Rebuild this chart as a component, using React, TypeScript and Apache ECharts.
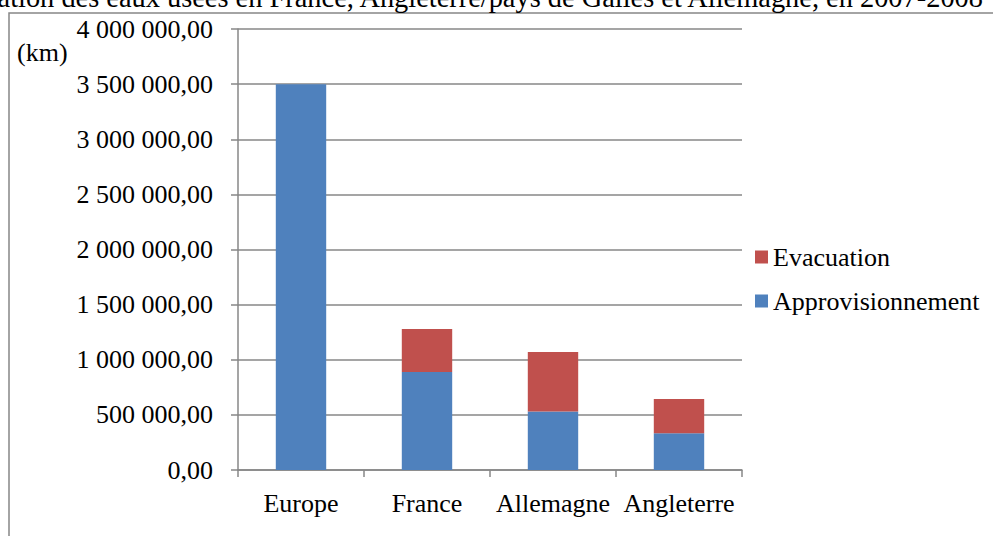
import React, { useEffect, useRef } from "react";
import * as echarts from "echarts";

const categories = ["Europe", "France", "Allemagne", "Angleterre"];
const approvisionnement = [3500000, 890000, 530000, 333000];
const evacuation = [0, 390000, 540000, 311000];
const titleText = "ation des eaux usées en France, Angleterre/pays de Galles et Allemagne, en 2007-2008";
const unitLabel = "(km)";

const FONT = "Liberation Serif, Times New Roman, serif";
const GRAY = "#878787";
const FS = 26;

function fmt(v: number): string {
  const s = Math.round(v).toString().replace(/\B(?=(\d{3})+(?!\d))/g, " ");
  return s + ",00";
}

export default function App() {
  const ref = useRef<HTMLDivElement>(null);
  useEffect(() => {
    if (!ref.current) return;
    const chart = echarts.init(ref.current, null, { renderer: "svg" });
    chart.setOption({
      animation: false,
      backgroundColor: "#ffffff",
      textStyle: { fontFamily: FONT },
      grid: { left: 238, right: 251, top: 29, bottom: 66, containLabel: false },
      legend: {
        orient: "vertical",
        left: 750,
        top: 239,
        itemGap: 18,
        itemWidth: 13,
        itemHeight: 13,
        icon: "rect",
        data: ["Evacuation", "Approvisionnement"],
        textStyle: { fontFamily: FONT, fontSize: FS, color: "#000" },
      },
      xAxis: {
        type: "category",
        data: categories,
        axisLine: { lineStyle: { color: GRAY, width: 1.5 } },
        axisTick: { show: true, length: 7, lineStyle: { color: GRAY, width: 1.5 } },
        axisLabel: { color: "#000", fontFamily: FONT, fontSize: FS, margin: 20, interval: 0 },
      },
      yAxis: {
        type: "value",
        min: 0,
        max: 4000000,
        interval: 500000,
        axisLine: { show: true, lineStyle: { color: GRAY, width: 1.5 } },
        axisTick: { show: true, length: 7, lineStyle: { color: GRAY, width: 1.5 } },
        splitLine: { lineStyle: { color: GRAY, width: 1.5 } },
        axisLabel: { color: "#000", fontFamily: FONT, fontSize: FS, margin: 25, formatter: (v: number) => fmt(v) },
      },
      series: [
        {
          name: "Approvisionnement",
          type: "bar",
          stack: "total",
          barWidth: "40%",
          data: approvisionnement,
          itemStyle: { color: "#4F81BD" },
        },
        {
          name: "Evacuation",
          type: "bar",
          stack: "total",
          barWidth: "40%",
          data: evacuation,
          itemStyle: { color: "#C0504D" },
        },
      ],
      graphic: [
        {
          type: "rect",
          shape: { x: 9, y: 13, width: 1000, height: 600 },
          style: { fill: "none", stroke: GRAY, lineWidth: 1.5 },
          silent: true,
        },
        {
          type: "text",
          x: 983,
          y: 11,
          style: {
            text: titleText,
            font: `28.4px ${FONT}`,
            fill: "#000",
            textAlign: "right",
            textVerticalAlign: "bottom",
          },
        },
        {
          type: "text",
          x: 17,
          y: 52,
          style: {
            text: unitLabel,
            font: `${FS}px ${FONT}`,
            fill: "#000",
            textAlign: "left",
            textVerticalAlign: "middle",
          },
        },
      ],
    });
    return () => chart.dispose();
  }, []);
  return <div ref={ref} style={{ position: "fixed", left: 0, top: 0, width: 993, height: 536 }} />;
}
